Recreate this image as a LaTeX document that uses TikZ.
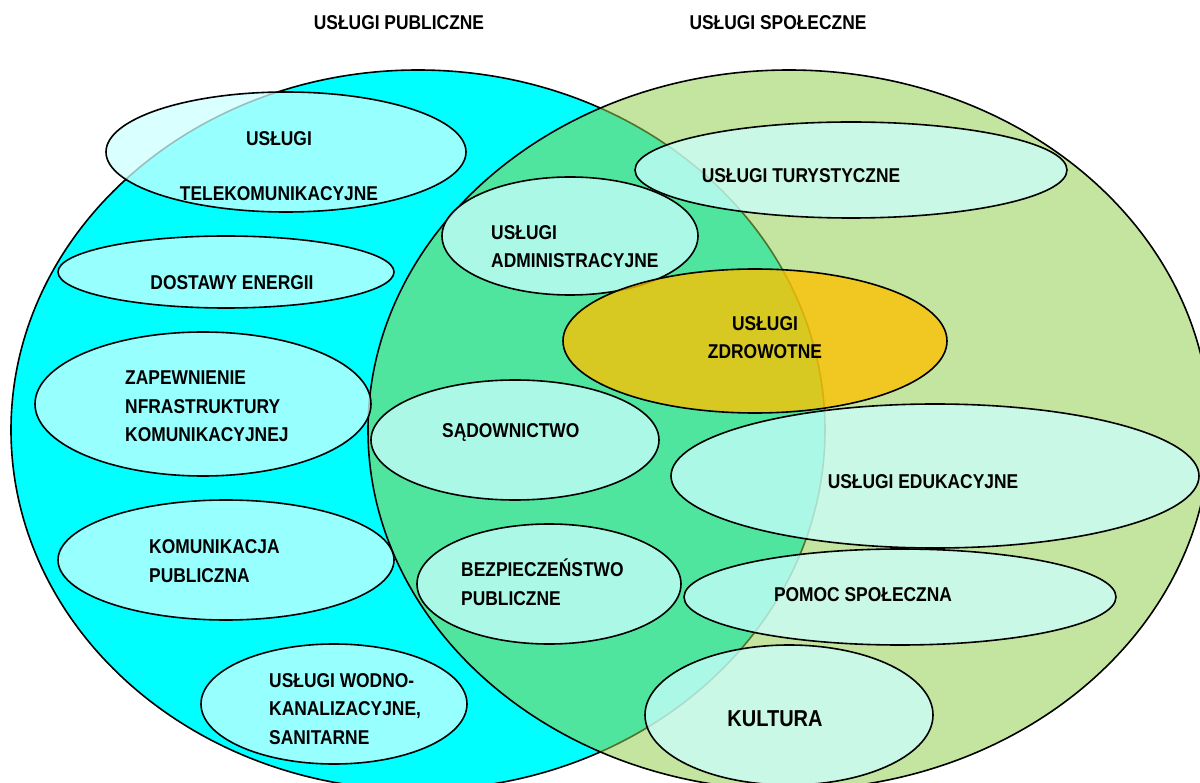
\documentclass[tikz,border=0pt]{standalone}
\usepackage{fontspec}
\newfontfamily\venn[FakeStretch=0.87]{Liberation Sans}
\usetikzlibrary{shapes.geometric}
\definecolor{pubcyan}{RGB}{0,255,255}
\definecolor{spogreen}{RGB}{146,208,80}
\definecolor{subcyan}{RGB}{204,255,255}
\definecolor{zdrgold}{RGB}{255,192,0}

\begin{document}
\begin{tikzpicture}[x = 1pt, y = -1pt,
    bigset/.style = {ellipse, draw, line width = 1.6pt, inner sep = 0pt},
    subset/.style = {ellipse, draw, line width = 1.6pt, inner sep = 0pt, fill = subcyan, fill opacity = 0.75},
    lbl/.style = {font = \venn\bfseries\fontsize{20}{28.5}\selectfont, inner sep = 0pt, align = left, anchor = base west},
    clbl/.style = {lbl, align = center, anchor = base}]
    \useasboundingbox (0,0) rectangle (1200,783);
    \clip (0,0) rectangle (1200,783);
    \node[bigset, fill = pubcyan, minimum width = 814pt, minimum height = 720pt] (pub) at (418,430) {};
    \node[bigset, fill = spogreen, fill opacity = 0.55, minimum width = 842pt, minimum height = 720pt] (spo) at (789,430) {};
    \node[subset, minimum width = 360pt, minimum height = 120pt] (tele) at (286,152) {};
    \node[subset, minimum width = 336pt, minimum height = 72pt] (ener) at (226,272) {};
    \node[subset, minimum width = 336pt, minimum height = 144pt] (infra) at (203,404) {};
    \node[subset, minimum width = 336pt, minimum height = 120pt] (komun) at (226,560) {};
    \node[subset, minimum width = 266pt, minimum height = 120pt] (wodno) at (334,704) {};
    \node[subset, minimum width = 256pt, minimum height = 118pt] (admin) at (570,236) {};
    \node[subset, minimum width = 288pt, minimum height = 120pt] (sad) at (515,440) {};
    \node[subset, minimum width = 264pt, minimum height = 120pt] (bezp) at (549,584) {};
    \node[subset, minimum width = 432pt, minimum height = 96pt] (tur) at (851,170) {};
    \node[subset, fill = zdrgold, fill opacity = 0.78, minimum width = 384pt, minimum height = 144pt] (zdrow) at (755,341) {};
    \node[subset, minimum width = 528pt, minimum height = 144pt] (edu) at (935,476) {};
    \node[subset, minimum width = 432pt, minimum height = 96pt] (pomoc) at (900,597) {};
    \node[subset, minimum width = 288pt, minimum height = 140pt] (kult) at (789,715) {};
    \node[clbl] (tpub) at (399,30) {USŁUGI PUBLICZNE};
    \node[clbl] (tspo) at (778,30) {USŁUGI SPOŁECZNE};
    \node[clbl] (ltele) at (279,201) {USŁUGI\\[26.5pt]TELEKOMUNIKACYJNE};
    \node[clbl] (lener) at (232,290) {DOSTAWY ENERGII};
    \node[lbl] (ladmin) at (491,268) {USŁUGI\\ADMINISTRACYJNE};
    \node[clbl] (ltur) at (801,183) {USŁUGI TURYSTYCZNE};
    \node[clbl] (lzdrow) at (765,359) {USŁUGI\\ZDROWOTNE};
    \node[lbl] (linfra) at (125,442) {ZAPEWNIENIE\\NFRASTRUKTURY\\KOMUNIKACYJNEJ};
    \node[lbl] (lsad) at (442,438) {SĄDOWNICTWO};
    \node[clbl] (ledu) at (923,489) {USŁUGI EDUKACYJNE};
    \node[lbl] (lkomun) at (149,582) {KOMUNIKACJA\\PUBLICZNA};
    \node[lbl] (lbezp) at (461,605) {BEZPIECZEŃSTWO\\PUBLICZNE};
    \node[clbl] (lpomoc) at (863,601) {POMOC SPOŁECZNA};
    \node[lbl] (lwodno) at (269,744) {USŁUGI WODNO-\\KANALIZACYJNE,\\SANITARNE};
    \node[clbl, font = \venn\bfseries\fontsize{23}{28}\selectfont] (lkult) at (775,726) {KULTURA};
\end{tikzpicture}
\end{document}
